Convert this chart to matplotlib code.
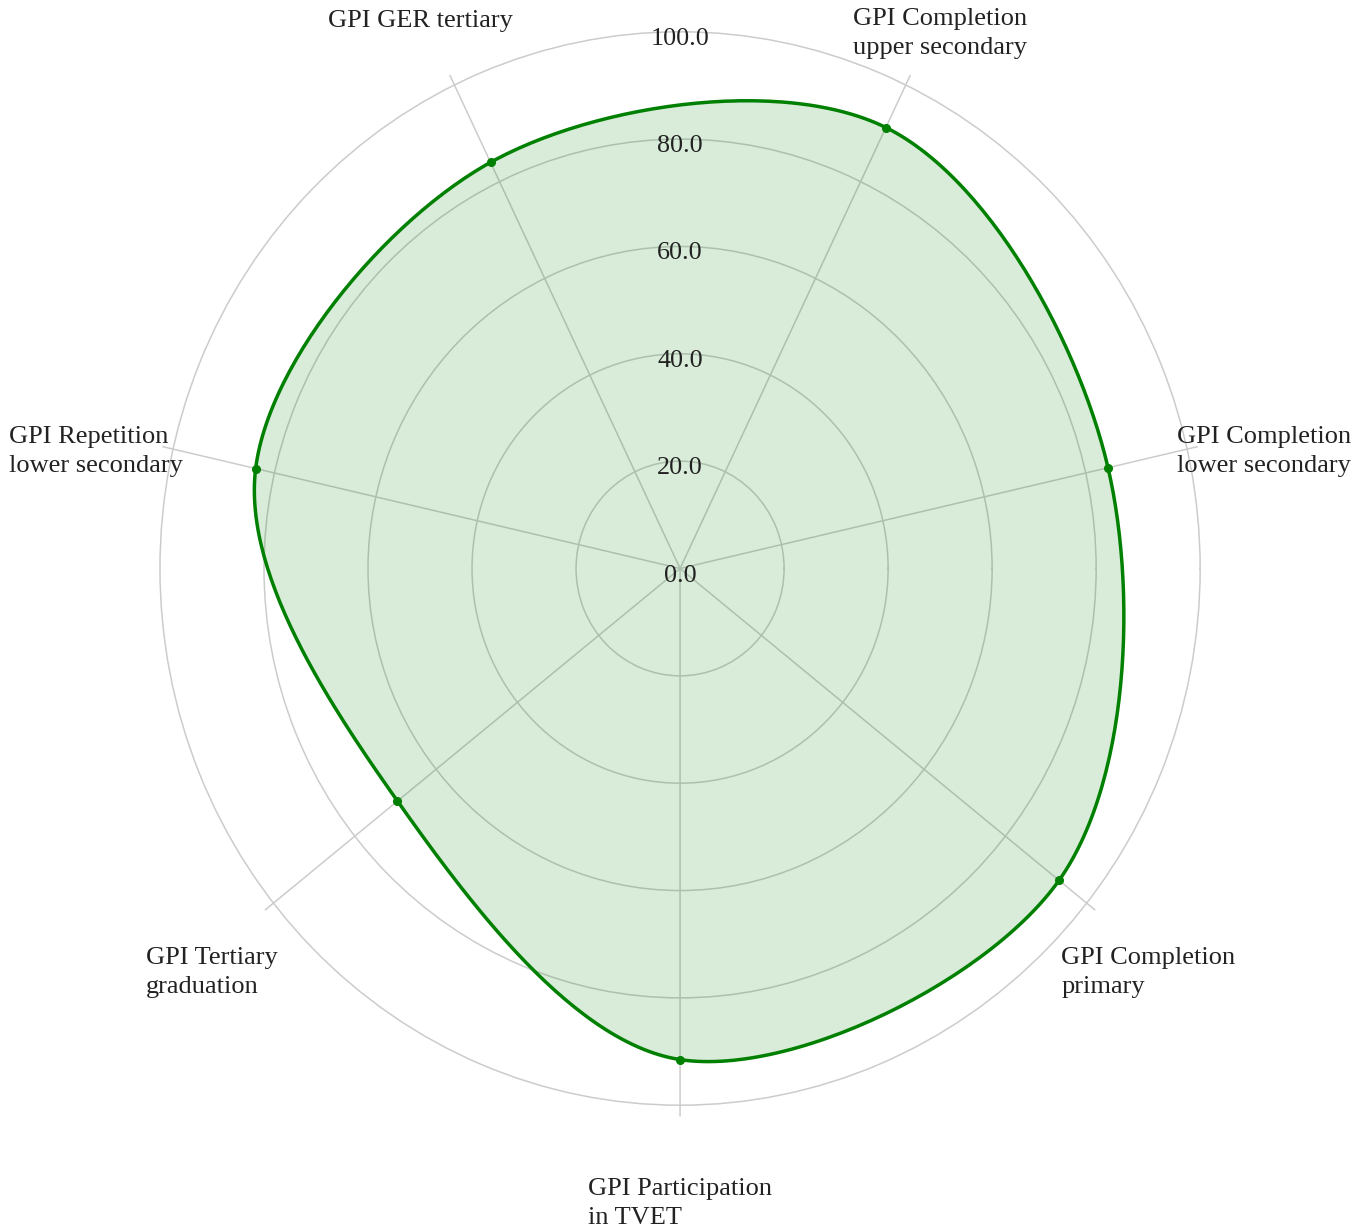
import numpy as np
import matplotlib.pyplot as plt

plt.rcParams["font.family"] = ["Liberation Serif", "DejaVu Serif"]

# categories, counterclockwise starting from the right-hand spoke
categories = [
    "GPI Completion\nlower secondary",
    "GPI Completion\nupper secondary",
    "GPI GER tertiary",
    "GPI Repetition\nlower secondary",
    "GPI Tertiary\ngraduation",
    "GPI Participation\nin TVET",
    "GPI Completion\nprimary",
]
values = [84.4, 91.2, 84.0, 83.7, 69.5, 91.5, 93.2]
r_ticks = [0, 20, 40, 60, 80, 100]
r_max = 102.1
start_deg = 12.857

# label placement (pixel offset of block left/centre from spoke end)
label_offsets = [(-21, -5), (-57, 41), (-122, 54), (-153, -5), (-119, -62), (-92, -87), (-34, -62)]


def plotly_spline(px, py, smooth=1.0, n=60):
    # closed spline the way plotly builds it (catmull-rom, exp 0.5)
    pts = np.column_stack([px, py])
    m = len(pts)
    tang = []
    for i in range(m):
        prev, cur, nxt = pts[i - 1], pts[i], pts[(i + 1) % m]
        d1 = prev - cur
        d2 = nxt - cur
        d1a = np.hypot(*d1) ** 0.5
        d2a = np.hypot(*d2) ** 0.5
        num = (d2a ** 2 * d1 - d1a ** 2 * d2) * smooth
        tang.append((cur + num / (3 * d2a * (d1a + d2a)), cur - num / (3 * d1a * (d1a + d2a))))
    t = np.linspace(0, 1, n, endpoint=False)[:, None]
    segs = []
    for i in range(m):
        p0, p3 = pts[i], pts[(i + 1) % m]
        p1, p2 = tang[i][1], tang[(i + 1) % m][0]
        segs.append((1 - t) ** 3 * p0 + 3 * (1 - t) ** 2 * t * p1 + 3 * (1 - t) * t ** 2 * p2 + t ** 3 * p3)
    return np.vstack(segs + [pts[:1]])


angles = np.deg2rad(start_deg + 360.0 / len(categories) * np.arange(len(categories)))
vals = np.array(values)
curve = plotly_spline(vals * np.cos(angles), vals * np.sin(angles))
c_th = np.unwrap(np.arctan2(curve[:, 1], curve[:, 0]))
c_r = np.hypot(curve[:, 0], curve[:, 1])

fig = plt.figure(figsize=(13.7, 12.3), dpi=100)
ax = fig.add_axes([0.1088, 0.0923, 0.7752, 0.891], projection="polar")
ax.set_aspect("auto")
ax.set_axisbelow(True)

ax.fill(c_th, c_r, color="#008000", alpha=0.15, linewidth=0)
ax.plot(c_th, c_r, color="#008000", linewidth=2.5)
ax.plot(angles, vals, "o", color="#008000", markersize=5.5)

ax.set_ylim(0, r_max)
ax.set_yticks(r_ticks)
ax.set_yticklabels([])
ax.set_xticks(angles)
ax.set_xticklabels([])
ax.grid(True, color="#cccccc", linewidth=1.1)
ax.spines["polar"].set_visible(False)
ax.tick_params(length=0)

for r in r_ticks:
    ax.annotate(f"{r:.1f}", xy=(np.pi / 2, r), xytext=(0, -7), textcoords="offset pixels",
                ha="center", va="center", fontsize=18.8, color="#222222", annotation_clip=False)

for ang, lab, (dx, dy) in zip(angles, categories, label_offsets):
    ax.annotate(lab, xy=(ang, r_max), xytext=(dx, dy), textcoords="offset pixels",
                ha="left", va="center", multialignment="left", linespacing=1.4,
                fontsize=19, color="#222222", annotation_clip=False)

fig.savefig("out.png", dpi=100)
